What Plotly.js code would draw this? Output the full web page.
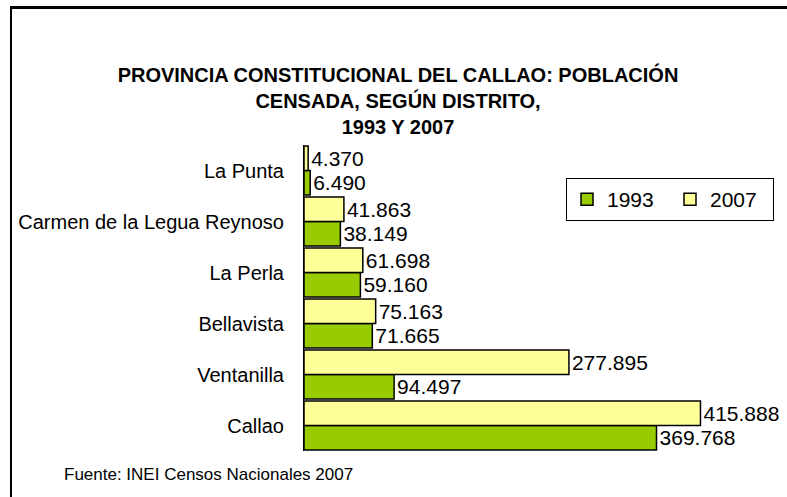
<!DOCTYPE html>
<html>
<head>
<meta charset="utf-8">
<script src="https://cdn.plot.ly/plotly-3.0.1.min.js"></script>
<style>
  body { margin: 0; background: #fff; }
  #frame { position: absolute; left: 10px; top: 6px; width: 900px; height: 600px;
           border-left: 2px solid #000; border-top: 3px solid #000; pointer-events: none; z-index: 5; }
  #chart { position: absolute; left: 0; top: 0; width: 787px; height: 497px; }
</style>
</head>
<body>
<div id="chart"></div>
<div id="frame"></div>
<script>
const districts = ['Callao', 'Ventanilla', 'Bellavista', 'La Perla', 'Carmen de la Legua Reynoso', 'La Punta'];
const pop1993 = [369768, 94497, 71665, 59160, 38149, 6490];
const pop2007 = [415888, 277895, 75163, 61698, 41863, 4370];
const seriesNames = ['1993', '2007'];

function fmt(v) { return String(v).replace(/\B(?=(\d{3})+(?!\d))/g, '.'); }

const font = 'Liberation Sans, Arial, sans-serif';
const W = 787, H = 497, L = 304, R = 54, T = 145, B = 46;
const pw = W - L - R, ph = H - T - B;
const px2x = p => (p - L) / pw;
const py2y = p => (H - B - p) / ph;

const traces = [
  { type: 'bar', orientation: 'h', name: seriesNames[0], y: districts, x: pop1993,
    text: pop1993.map(fmt), textposition: 'outside', cliponaxis: false,
    textfont: { family: font, size: 21, color: '#000' },
    marker: { color: '#99CC00', line: { color: '#000', width: 1.5 } }, hoverinfo: 'x+y' },
  { type: 'bar', orientation: 'h', name: seriesNames[1], y: districts, x: pop2007,
    text: pop2007.map(fmt), textposition: 'outside', cliponaxis: false,
    textfont: { family: font, size: 21, color: '#000' },
    marker: { color: '#FFFF99', line: { color: '#000', width: 1.5 } }, hoverinfo: 'x+y' }
];

const layout = {
  width: W, height: H,
  margin: { l: L, r: R, t: T, b: B, pad: 0, autoexpand: false },
  paper_bgcolor: 'rgba(0,0,0,0)', plot_bgcolor: 'rgba(0,0,0,0)',
  font: { family: font, size: 20, color: '#000' },
  barmode: 'group', bargap: 0.04, bargroupgap: 0,
  title: { text: 'PROVINCIA CONSTITUCIONAL DEL CALLAO: POBLACIÓN<br>CENSADA, SEGÚN DISTRITO,<br>1993 Y 2007',
           font: { family: font, size: 20, color: '#000', weight: 'bold' },
           x: 398 / W, xanchor: 'center', xref: 'container',
           y: 1 - 82 / H, yanchor: 'top', yref: 'container' },
  xaxis: { range: [0, 450000], visible: false, fixedrange: true },
  yaxis: { type: 'category', showline: true, linecolor: '#000', linewidth: 1, showgrid: false,
           ticks: '', ticklabelstandoff: 15, tickfont: { family: font, size: 20, color: '#000' }, fixedrange: true },
  legend: { orientation: 'h', x: px2x(566), y: py2y(178), xanchor: 'left', yanchor: 'top',
            bordercolor: '#000', borderwidth: 1, bgcolor: '#fff', itemwidth: 30,
            font: { family: font, size: 21, color: '#000' }, entrywidth: 58, traceorder: 'normal' },
  annotations: [
    { text: 'Fuente: INEI Censos Nacionales 2007', xref: 'paper', yref: 'paper',
      x: px2x(62), y: py2y(474), xanchor: 'left', yanchor: 'middle', showarrow: false,
      font: { family: font, size: 17, color: '#000' } }
  ]
};

Plotly.newPlot('chart', traces, layout, { displayModeBar: false, staticPlot: true });
</script>
</body>
</html>
